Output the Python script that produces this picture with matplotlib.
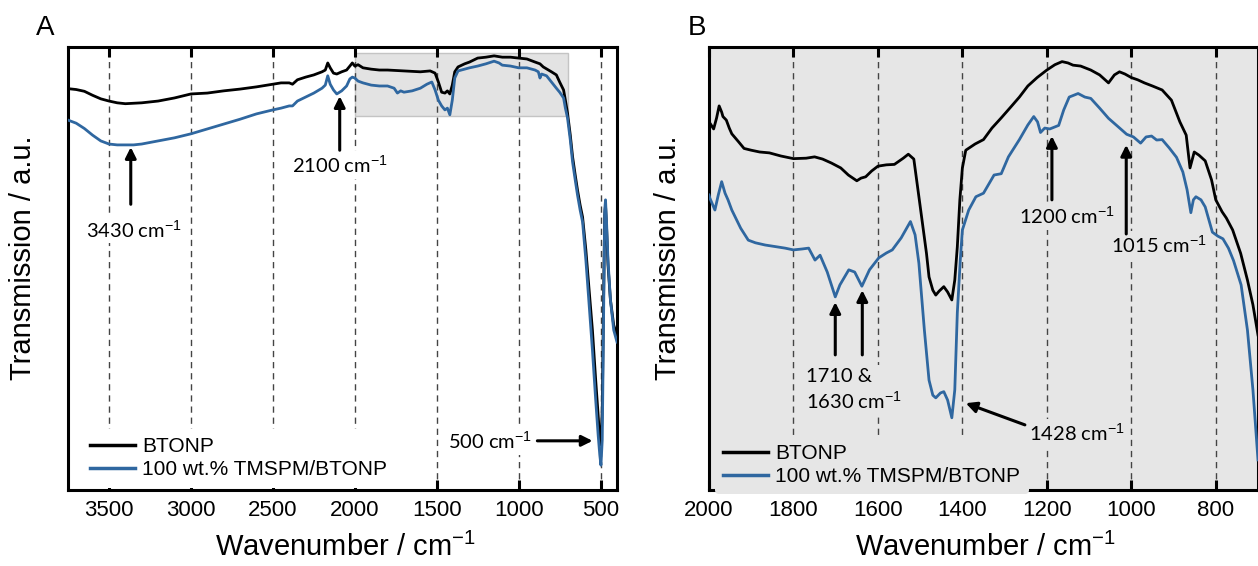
import matplotlib
matplotlib.use('Agg')
import matplotlib.pyplot as plt
from matplotlib.patches import Rectangle

plt.rcParams['font.family'] = ['Liberation Sans', 'DejaVu Sans']
plt.rcParams['mathtext.fontset'] = 'custom'
plt.rcParams['mathtext.rm'] = 'Liberation Sans'
plt.rcParams['mathtext.it'] = 'Liberation Sans:italic'
plt.rcParams['mathtext.bf'] = 'Liberation Sans:bold'

# ---------------- data (transmission, arbitrary units) ----------------
series_names = ['BTONP', '100 wt.% TMSPM/BTONP']

wn_a_btonp = [3750,3700,3650,3600,3550,3500,3450,3400,3300,3200,3100,3000,2900,2800,2700,2600,2500,2450,2400,2380,
              2350,2300,2250,2200,2180,2165,2150,2130,2110,2080,2050,2030,2015,2000,1980,1950,1900,1850,1800,1700,
              1600,1540,1510,1490,1470,1450,1435,1420,1405,1390,1370,1330,1300,1250,1200,1150,1100,1050,1000,950,
              900,870,850,800,770,750,726,715,702,685,671,655,641,625,610,590,570,550,530,515,
              505,498,490,482,475,470,463,455,440,420,400]
t_a_btonp = [90.6,90.4,90.0,89.1,88.3,87.8,87.4,87.2,87.4,87.8,88.5,89.4,89.6,90.1,90.5,91.0,91.6,91.9,91.9,91.6,
             92.6,93.2,93.7,94.4,94.8,96.4,95.3,94.1,93.9,94.4,94.8,95.7,96.4,95.7,96.0,95.3,95.0,94.8,94.8,94.6,
             94.4,94.6,94.1,92.1,89.8,89.6,90.1,89.4,91.4,94.4,95.5,96.2,96.6,97.5,97.7,98.0,97.7,97.7,97.5,97.3,
             96.6,96.2,95.5,94.4,93.7,92.1,90.3,88.0,85.1,80.1,75.2,71.1,67.7,64.3,61.6,54.2,45.1,36.1,24.8,16.9,
             11.3,10.2,18.1,42.9,62.1,64.3,58.7,50.8,42.9,37.2,35.0]

wn_a_tmspm = [3750,3700,3650,3600,3550,3500,3450,3400,3350,3300,3200,3100,3000,2900,2800,2700,2600,2500,2450,2400,
              2380,2350,2300,2250,2200,2180,2165,2150,2130,2110,2080,2050,2030,2015,2000,1980,1950,1900,1850,1800,
              1760,1740,1720,1700,1650,1600,1560,1530,1510,1490,1470,1450,1435,1420,1405,1390,1370,1330,1300,1250,
              1200,1150,1120,1100,1050,1000,950,900,880,870,860,830,800,770,750,726,715,702,685,671,
              655,641,625,610,590,570,550,530,515,505,498,490,482,475,470,463,455,440,420,400]
t_a_tmspm = [83.5,82.8,81.6,80.1,78.8,78.1,77.9,77.9,77.9,78.1,78.8,79.5,80.4,81.5,82.6,83.7,84.9,85.8,86.2,86.7,
             86.7,87.8,88.7,89.6,90.7,91.4,93.5,91.6,90.3,89.4,90.1,91.2,92.8,93.2,93.0,92.3,91.9,91.4,91.2,91.2,
             90.7,89.6,90.1,89.8,90.1,90.7,91.6,92.1,90.3,88.0,86.7,85.8,86.2,84.7,88.0,93.0,94.6,95.0,95.3,95.7,
             96.2,96.8,96.4,95.9,95.7,95.3,95.3,94.8,94.4,93.0,93.9,93.5,92.1,90.7,89.8,88.5,86.2,84.0,79.0,74.0,
             70.0,66.6,63.2,60.5,51.9,41.8,31.6,20.3,12.4,7.9,5.6,11.3,38.4,63.2,65.5,59.8,51.9,42.9,36.1,33.4]

wn_b_btonp = [2000,1997,1989,1982,1976,1970,1967,1959,1952,1946,1930,1917,1900,1880,1857,1830,1800,1770,1750,1731,
              1710,1688,1670,1650,1640,1629,1615,1600,1580,1561,1540,1528,1515,1502,1485,1479,1470,1463,1455,1444,
              1435,1425,1418,1412,1406,1400,1392,1370,1350,1330,1308,1285,1265,1245,1223,1200,1181,1164,1150,1138,
              1120,1096,1075,1054,1040,1028,1015,1000,985,969,950,927,905,885,870,861,851,840,825,810,
              800,785,775,760,741,725,712,700]
t_b_btonp = [83.1,82.7,81.5,84.0,86.7,85.3,84.3,83.5,81.7,80.4,78.6,77.1,76.7,76.3,76.1,75.4,74.8,74.9,75.2,74.7,
             73.8,72.7,71.1,69.8,70.4,70.7,72.0,73.1,73.4,73.5,74.9,75.8,74.7,65.5,53.4,48.1,45.1,44.0,44.9,45.9,
             44.7,42.9,47.4,54.9,65.5,72.7,76.7,78.1,79.1,81.7,84.0,86.5,88.7,91.2,93.1,94.8,96.0,96.7,96.4,95.9,
             95.7,94.8,93.7,91.9,93.7,94.4,93.9,93.1,92.6,91.9,91.2,90.3,88.0,83.1,80.1,72.7,76.3,75.6,74.3,70.0,
             65.5,62.8,61.4,58.7,53.4,47.4,41.8,35.0]

wn_b_tmspm = [2000,1998,1986,1978,1970,1962,1955,1946,1925,1907,1890,1867,1840,1820,1800,1780,1764,1749,1737,1720,
              1701,1690,1669,1655,1638,1620,1598,1580,1566,1545,1523,1512,1503,1490,1479,1470,1463,1452,1444,1435,
              1425,1418,1412,1405,1400,1385,1368,1350,1325,1308,1291,1265,1245,1231,1222,1215,1205,1193,1172,1160,
              1147,1126,1110,1096,1075,1054,1030,1011,995,978,965,952,940,927,910,893,878,868,859,853,
              847,835,825,808,795,783,770,758,740,725,712,700]
t_b_tmspm = [66.6,65.9,63.2,66.6,69.6,67.0,65.5,63.2,59.1,56.4,55.8,55.3,54.9,54.6,54.2,54.4,54.6,51.9,53.0,49.2,
             43.6,46.3,49.7,49.2,46.0,49.7,52.4,53.5,54.2,56.9,60.6,57.6,51.2,36.1,24.8,21.4,20.8,21.9,22.2,20.3,
             16.3,22.6,40.0,51.9,58.7,63.2,66.2,67.0,71.1,71.4,75.2,79.1,82.4,84.3,83.1,80.7,81.7,81.5,82.3,85.8,
             88.7,89.5,88.7,88.4,86.2,83.9,81.9,80.3,79.7,78.3,79.7,79.9,79.0,79.1,77.2,75.1,71.8,67.8,62.6,65.5,
             66.2,65.5,63.9,58.2,57.3,56.7,54.6,51.8,46.3,36.1,22.6,6.8]

ticks_a = [3500, 3000, 2500, 2000, 1500, 1000, 500]
ticks_b = [2000, 1800, 1600, 1400, 1200, 1000, 800]

# ---------------- styling ----------------
BLUE = '#2f67a0'
BG_B = '#e6e6e6'
ANN_FONT = ['Lato', 'DejaVu Sans']
ANN_SIZE = 14.5
XLAB = 'Wavenumber / cm$^{-1}$'
YLAB = 'Transmission / a.u.'

fig = plt.figure(figsize=(12.58, 5.66), dpi=100)
axA = fig.add_axes([68/1258, 1-490/566, 549/1258, 443/566])
axB = fig.add_axes([709/1258, 1-490/566, 549/1258, 443/566])


def style_axis(ax, ticks, xlim, bg):
    ax.set_facecolor(bg)
    ax.set_xlim(*xlim)
    ax.set_ylim(0, 100)
    ax.set_xticks(ticks)
    ax.set_yticks([])
    ax.tick_params(axis='x', direction='in', top=True, bottom=True, length=7, width=2.2,
                   labelsize=16, pad=7)
    for s in ax.spines.values():
        s.set_linewidth(2.2)
        s.set_color('black')
    ax.set_axisbelow(True)
    ax.grid(axis='x', linestyle=(0, (4.5, 3.5)), color='#444444', lw=1.0)


style_axis(axA, ticks_a, (3750, 400), 'white')
style_axis(axB, ticks_b, (2000, 700), BG_B)

# grey highlighted region in A (the zoom window of panel B)
axA.add_patch(Rectangle((700, 84.5), 1300, 14.1, facecolor='#e3e3e3', edgecolor='#c4c4c4',
                        lw=1.0, zorder=0.2))

for ax, (wb, tb, wt, tt) in [(axA, (wn_a_btonp, t_a_btonp, wn_a_tmspm, t_a_tmspm)),
                             (axB, (wn_b_btonp, t_b_btonp, wn_b_tmspm, t_b_tmspm))]:
    ax.plot(wb, tb, color='black', lw=2.0, label=series_names[0], zorder=3)
    ax.plot(wt, tt, color=BLUE, lw=2.0, label=series_names[1], zorder=3)


def arrow(ax, tail, tip):
    ax.annotate('', xy=tip, xytext=tail,
                arrowprops=dict(arrowstyle='-|>', color='black', lw=2.2, mutation_scale=16,
                                shrinkA=0, shrinkB=0), zorder=5)


def label(ax, x, y, s, bg, ha='center', va='center'):
    ax.text(x, y, s, ha=ha, va=va, fontsize=ANN_SIZE, family=ANN_FONT, zorder=4,
            linespacing=1.3, bbox=dict(facecolor=bg, edgecolor='none', pad=2))


# Panel A annotations
arrow(axA, (3367, 64.5), (3367, 77.4))
label(axA, 3347, 58.8, '3430 cm$^{-1}$', 'white')
arrow(axA, (2092, 76.7), (2092, 88.9))
label(axA, 2092, 73.4, '2100 cm$^{-1}$', 'white')
arrow(axA, (886, 11.1), (549, 11.1))
label(axA, 916, 11.1, '500 cm$^{-1}$', 'white', ha='right')

# Panel B annotations
arrow(axB, (1701, 30.5), (1701, 42.4))
arrow(axB, (1637, 30.5), (1637, 45.1))
label(axB, 1770, 22.6, '1710 &\n1630 cm$^{-1}$', BG_B, ha='left')
arrow(axB, (1252, 14.7), (1392, 19.6))
label(axB, 1128, 12.9, '1428 cm$^{-1}$', BG_B)
arrow(axB, (1188, 65.5), (1188, 79.9))
label(axB, 1152, 61.9, '1200 cm$^{-1}$', BG_B)
arrow(axB, (1012, 57.8), (1012, 77.9))
label(axB, 934, 55.3, '1015 cm$^{-1}$', BG_B)

# legends
legA = axA.legend(loc='lower left', bbox_to_anchor=(0.025, 0.005), fontsize=15, frameon=True,
                  facecolor='white', edgecolor='none', framealpha=1, handlelength=2.15,
                  handletextpad=0.35, labelspacing=0.2, borderpad=0.4, borderaxespad=0)
legB = axB.legend(loc='lower left', bbox_to_anchor=(0.011, -0.01), fontsize=15, frameon=True,
                  facecolor=BG_B, edgecolor='none', framealpha=1, handlelength=2.15,
                  handletextpad=0.35, labelspacing=0.2, borderpad=0.4, borderaxespad=0)
for lg in (legA, legB):
    lg.set_zorder(6)
    for ln in lg.get_lines():
        ln.set_linewidth(2.5)

# axis titles and panel letters
fig.text(345/1258, 1-547/566, XLAB, ha='center', va='center', fontsize=21)
fig.text(985/1258, 1-547/566, XLAB, ha='center', va='center', fontsize=21)
fig.text(23/1258, 1-258/566, YLAB, ha='center', va='center', rotation=90, fontsize=21)
fig.text(668/1258, 1-258/566, YLAB, ha='center', va='center', rotation=90, fontsize=21)
fig.text(45/1258, 1-28/566, 'A', ha='center', va='center', fontsize=20)
fig.text(697/1258, 1-28/566, 'B', ha='center', va='center', fontsize=20)

fig.savefig('out.png', dpi=100)
